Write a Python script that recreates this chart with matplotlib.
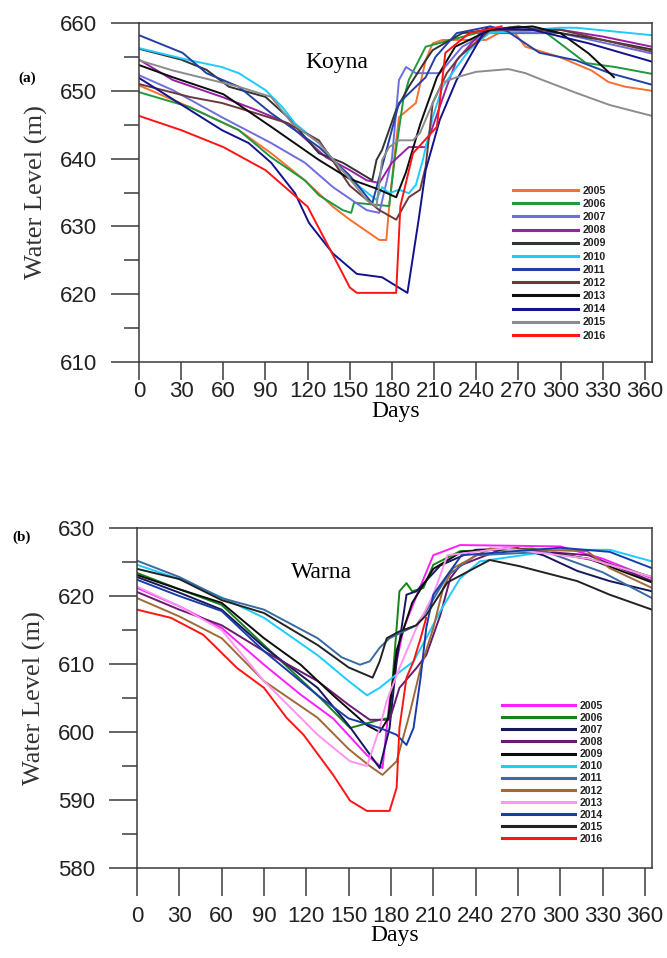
import matplotlib
matplotlib.use("Agg")
import matplotlib.pyplot as plt
from matplotlib.ticker import MultipleLocator

years = ["2005", "2006", "2007", "2008", "2009", "2010", "2011", "2012", "2013", "2014", "2015", "2016"]
xticks = list(range(0, 361, 30))

# ---------------- Koyna (a) ----------------
koyna_colors = ["#F7702F", "#1E9A3C", "#6E6EDC", "#9A1FA6", "#333333", "#1ECBFF",
                "#2142A4", "#6A3A3A", "#0D0D0D", "#12128C", "#8C8C8C", "#FF1414"]
k2005_d = [0, 36, 71, 94, 118, 138, 150, 171, 176, 178, 182, 185, 197, 204, 209, 216, 247, 264, 275, 299, 322, 334, 346, 365]
k2005_v = [650.8, 647.6, 644.2, 640.8, 636.8, 632.9, 631.0, 628.0, 628.0, 632.9, 640.8, 646.1, 648.2, 654.5, 657.0, 657.5, 657.5, 659.4, 656.5, 655.0, 653.0, 651.3, 650.6, 650.0]
k2006_d = [0, 36, 71, 94, 118, 128, 145, 151, 153, 178, 182, 188, 192, 204, 213, 240, 290, 318, 339, 365]
k2006_v = [649.8, 647.6, 644.2, 640.2, 636.8, 634.6, 632.4, 632.0, 633.5, 633.0, 640.0, 648.6, 651.6, 656.5, 657.0, 658.5, 658.5, 654.1, 653.5, 652.5]
k2007_d = [0, 24, 59, 94, 118, 138, 162, 171, 180, 185, 190, 197, 214, 230, 250, 300, 365]
k2007_v = [652.3, 650.1, 646.1, 642.3, 639.4, 635.8, 632.4, 632.0, 640.0, 651.6, 653.5, 652.6, 652.6, 656.5, 658.8, 658.5, 655.5]
k2008_d = [0, 24, 59, 83, 106, 133, 150, 162, 171, 180, 192, 204, 209, 219, 226, 245, 300, 330, 365]
k2008_v = [654.6, 651.6, 649.1, 647.2, 645.2, 640.2, 638.3, 636.8, 636.4, 639.4, 641.7, 641.7, 644.7, 650.6, 654.5, 659.0, 659.0, 658.0, 656.5]
k2009_d = [0, 30, 48, 64, 90, 106, 128, 145, 166, 169, 173, 183, 192, 204, 209, 230, 270, 300, 330, 365]
k2009_v = [656.2, 654.6, 653.1, 650.6, 649.1, 646.1, 640.8, 639.4, 636.8, 639.8, 641.3, 647.2, 650.6, 654.5, 656.0, 658.5, 659.5, 658.5, 657.5, 656.1]
k2010_d = [0, 36, 59, 71, 90, 102, 111, 128, 150, 169, 173, 178, 185, 192, 197, 202, 209, 216, 226, 235, 249, 300, 311, 365]
k2010_v = [656.3, 654.5, 653.5, 652.6, 650.1, 647.6, 645.2, 642.3, 637.0, 633.9, 635.8, 634.9, 635.4, 634.9, 636.1, 639.8, 646.1, 650.6, 653.5, 656.0, 658.5, 659.3, 659.3, 658.2]
k2011_d = [0, 31, 48, 71, 94, 111, 128, 150, 166, 173, 185, 204, 211, 226, 250, 262, 285, 311, 335, 365]
k2011_v = [658.2, 655.6, 652.6, 650.6, 646.7, 644.2, 641.7, 637.5, 633.4, 638.8, 648.2, 652.0, 655.0, 658.5, 659.5, 658.8, 655.6, 654.5, 652.6, 650.9]
k2012_d = [0, 36, 59, 83, 106, 128, 150, 171, 183, 192, 200, 204, 209, 219, 228, 250, 300, 330, 365]
k2012_v = [651.0, 649.1, 648.2, 646.7, 645.2, 642.7, 636.0, 632.4, 631.0, 634.3, 635.4, 638.8, 648.2, 652.6, 655.0, 659.0, 659.0, 657.5, 655.8]
k2013_d = [0, 24, 60, 94, 128, 150, 170, 183, 190, 200, 212, 225, 250, 280, 300, 320, 338]
k2013_v = [653.8, 652.0, 649.5, 644.7, 639.8, 637.0, 635.5, 634.3, 638.0, 645.0, 652.0, 656.5, 659.0, 659.5, 658.5, 655.5, 652.0]
k2014_d = [0, 36, 59, 78, 94, 111, 121, 138, 155, 173, 191, 199, 204, 214, 226, 237, 247, 280, 320, 365]
k2014_v = [651.9, 647.2, 644.2, 642.3, 639.4, 634.9, 630.5, 626.0, 623.0, 622.5, 620.2, 631.0, 638.3, 645.7, 651.6, 655.6, 659.2, 659.0, 657.0, 654.3]
k2015_d = [0, 24, 71, 94, 109, 128, 150, 162, 169, 173, 178, 185, 195, 200, 209, 216, 226, 240, 263, 275, 287, 311, 335, 365]
k2015_v = [654.5, 653.0, 650.6, 649.1, 645.2, 642.3, 637.0, 633.9, 632.9, 639.8, 641.7, 642.7, 642.7, 643.8, 648.2, 651.2, 652.0, 652.8, 653.2, 652.6, 651.6, 649.7, 647.9, 646.3]
k2016_d = [0, 30, 60, 90, 120, 140, 150, 155, 183, 186, 195, 212, 218, 235, 258]
k2016_v = [646.3, 644.2, 641.7, 638.3, 632.9, 625.0, 621.0, 620.2, 620.2, 633.0, 640.8, 644.7, 655.6, 658.5, 659.5]

koyna_days = [k2005_d, k2006_d, k2007_d, k2008_d, k2009_d, k2010_d, k2011_d, k2012_d, k2013_d, k2014_d, k2015_d, k2016_d]
koyna_vals = [k2005_v, k2006_v, k2007_v, k2008_v, k2009_v, k2010_v, k2011_v, k2012_v, k2013_v, k2014_v, k2015_v, k2016_v]

# ---------------- Warna (b) ----------------
warna_colors = ["#FF1EFF", "#1A821A", "#16165E", "#6A1A6E", "#0D0D0D", "#1ECBFF",
                "#3A6AA2", "#A06A38", "#FF94F2", "#1A3CAA", "#222222", "#FF1414"]
w2005_d = [0, 30, 60, 90, 116, 139, 163, 174, 179, 184, 189, 200, 210, 229, 300, 330, 365]
w2005_v = [621.2, 618.5, 615.3, 609.9, 605.5, 602.0, 596.6, 594.7, 604.6, 610.4, 615.3, 621.0, 626.0, 627.5, 627.3, 625.5, 622.6]
w2006_d = [0, 30, 60, 90, 128, 151, 172, 179, 184, 186, 191, 195, 203, 210, 229, 280, 330, 365]
w2006_v = [623.4, 621.0, 618.7, 612.8, 605.4, 600.6, 601.8, 602.1, 615.3, 620.7, 621.9, 620.7, 621.2, 624.6, 626.6, 627.0, 625.0, 622.8]
w2007_d = [0, 30, 60, 90, 128, 150, 172, 179, 184, 191, 198, 215, 240, 270, 288, 312, 335, 365]
w2007_v = [622.8, 620.5, 618.0, 612.5, 606.5, 601.0, 594.7, 600.6, 610.4, 620.2, 620.7, 624.5, 626.8, 627.0, 626.0, 623.7, 622.2, 620.7]
w2008_d = [0, 30, 60, 90, 128, 150, 165, 179, 186, 198, 205, 215, 222, 229, 260, 320, 365]
w2008_v = [620.6, 618.0, 615.7, 611.9, 607.5, 604.0, 601.8, 601.8, 606.5, 609.4, 611.3, 617.2, 622.6, 624.5, 627.0, 626.0, 622.2]
w2009_d = [0, 30, 60, 90, 116, 139, 163, 172, 178, 184, 195, 210, 230, 270, 320, 365]
w2009_v = [623.1, 621.0, 619.0, 613.8, 609.9, 605.4, 601.0, 600.0, 602.0, 612.0, 619.0, 624.0, 626.5, 627.0, 625.5, 622.0]
w2010_d = [0, 30, 60, 90, 128, 150, 163, 172, 181, 196, 205, 215, 229, 243, 300, 335, 365]
w2010_v = [624.6, 622.5, 619.8, 616.8, 611.3, 607.5, 605.4, 606.5, 608.0, 610.4, 613.8, 617.8, 622.6, 625.1, 626.8, 626.8, 625.1]
w2011_d = [0, 30, 60, 90, 128, 145, 158, 165, 172, 179, 198, 205, 220, 240, 290, 330, 365]
w2011_v = [625.2, 622.8, 619.7, 618.0, 613.8, 611.0, 609.9, 610.4, 612.4, 613.8, 615.7, 617.8, 623.0, 626.0, 626.5, 623.5, 619.7]
w2012_d = [0, 30, 60, 90, 128, 150, 165, 174, 184, 193, 201, 210, 217, 224, 250, 319, 335, 365]
w2012_v = [619.7, 617.0, 613.8, 607.5, 602.1, 597.5, 595.0, 593.7, 595.7, 602.5, 609.4, 615.3, 621.2, 624.1, 627.0, 626.6, 624.1, 621.2]
w2013_d = [0, 30, 60, 90, 128, 151, 163, 172, 177, 186, 198, 210, 220, 260, 320, 365]
w2013_v = [621.4, 618.5, 615.0, 607.5, 599.6, 595.7, 595.0, 600.6, 604.6, 609.4, 615.3, 620.2, 626.0, 627.0, 625.5, 622.8]
w2014_d = [0, 30, 60, 90, 128, 150, 172, 184, 191, 196, 201, 205, 210, 230, 300, 335, 365]
w2014_v = [622.4, 620.0, 617.8, 611.9, 605.4, 602.0, 600.6, 599.6, 598.1, 600.6, 608.0, 615.3, 620.2, 626.0, 627.1, 626.5, 624.1]
w2015_d = [0, 30, 60, 90, 128, 150, 167, 172, 177, 186, 198, 205, 220, 250, 271, 312, 335, 365]
w2015_v = [624.0, 622.5, 619.4, 617.5, 612.8, 609.5, 608.0, 610.4, 613.8, 614.8, 615.7, 617.2, 622.0, 625.3, 624.4, 622.2, 620.2, 618.0]
w2016_d = [0, 24, 47, 71, 90, 106, 118, 139, 151, 163, 179, 184, 186, 191, 196, 201, 205]
w2016_v = [618.0, 616.8, 614.3, 609.4, 606.5, 602.1, 599.6, 593.7, 589.9, 588.4, 588.4, 591.8, 600.6, 608.0, 610.4, 613.8, 616.8]

warna_days = [w2005_d, w2006_d, w2007_d, w2008_d, w2009_d, w2010_d, w2011_d, w2012_d, w2013_d, w2014_d, w2015_d, w2016_d]
warna_vals = [w2005_v, w2006_v, w2007_v, w2008_v, w2009_v, w2010_v, w2011_v, w2012_v, w2013_v, w2014_v, w2015_v, w2016_v]

SANS = ["Liberation Sans", "DejaVu Sans"]
SERIF = ["Liberation Serif", "DejaVu Serif"]
SPINE = "#3a3a3a"

fig = plt.figure(figsize=(6.67, 9.58), dpi=100)
ax1 = fig.add_axes([0.2084, 0.6221, 0.769, 0.3539])
ax2 = fig.add_axes([0.2054, 0.0939, 0.7721, 0.3549])


def style(ax, ylim, xlen, xpad):
    ax.set_xlim(0, 365)
    ax.set_ylim(*ylim)
    ax.set_xticks(xticks)
    ax.yaxis.set_major_locator(MultipleLocator(10))
    ax.yaxis.set_minor_locator(MultipleLocator(5))
    for s in ax.spines.values():
        s.set_color(SPINE)
        s.set_linewidth(1.1)
    ax.tick_params(axis="y", which="major", direction="out", length=20, width=1.1,
                   color=SPINE, pad=10, labelsize=16)
    ax.tick_params(axis="y", which="minor", direction="out", length=11, width=1.1, color=SPINE)
    ax.tick_params(axis="x", which="major", direction="out", length=xlen, width=1.1,
                   color=SPINE, pad=xpad, labelsize=16)
    for lab in ax.get_xticklabels() + ax.get_yticklabels():
        lab.set_family(SANS)
        lab.set_color("#222222")
    ax.set_xlabel("Days", family=SERIF, fontsize=17, labelpad=-1)
    ax.set_ylabel("Water Level (m)", family=SERIF, fontsize=19, color="#333333", labelpad=9)


for d, v, c, y in zip(koyna_days, koyna_vals, koyna_colors, years):
    ax1.plot(d, v, color=c, lw=1.4, label=y)
for d, v, c, y in zip(warna_days, warna_vals, warna_colors, years):
    ax2.plot(d, v, color=c, lw=1.4, label=y)

style(ax1, (610, 660), 13, 1)
style(ax2, (580, 630), 20, 7)

leg1 = ax1.legend(loc="upper left", bbox_to_anchor=(0.729, 0.52), frameon=False,
                  handlelength=6.2, handletextpad=0.45, labelspacing=0.3, borderpad=0,
                  borderaxespad=0, prop={"family": SANS, "size": 7.6, "weight": "bold"})
leg2 = ax2.legend(loc="upper left", bbox_to_anchor=(0.709, 0.492), frameon=False,
                  handlelength=6.9, handletextpad=0.4, labelspacing=0.2, borderpad=0,
                  borderaxespad=0, prop={"family": SANS, "size": 7.6, "weight": "bold"})
for leg in (leg1, leg2):
    for h in leg.get_lines():
        h.set_linewidth(2.2)
    for t in leg.get_texts():
        t.set_color("#222222")

ax1.text(140.6, 654.2, "Koyna", family=SERIF, fontsize=17, ha="center", va="center")
ax2.text(131, 623.4, "Warna", family=SERIF, fontsize=17, ha="center", va="center")
fig.text(27 / 667, 1 - 78 / 958, "(a)", family=SERIF, fontsize=11, fontweight="bold",
         ha="center", va="center")
fig.text(22 / 667, 1 - 537 / 958, "(b)", family=SERIF, fontsize=11, fontweight="bold",
         ha="center", va="center")

fig.savefig("out.png", dpi=100, facecolor="white")
